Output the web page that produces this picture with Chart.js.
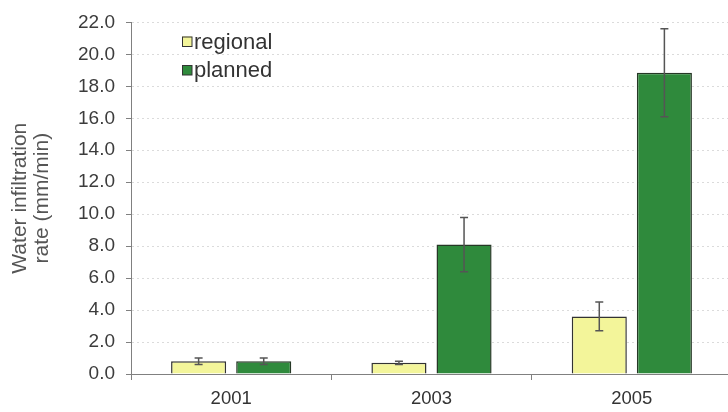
<!DOCTYPE html>
<html>
<head>
<meta charset="utf-8">
<script src="https://cdn.jsdelivr.net/npm/chart.js@4/dist/chart.umd.min.js"></script>
<style>
  html, body { margin: 0; padding: 0; background: #ffffff; overflow: hidden; }
  #wrap { width: 736px; height: 412px; }
</style>
</head>
<body>
<div id="wrap"><canvas id="c" width="736" height="412"></canvas></div>
<script>
// Infiltration rate by year, means with standard error
const years = ['2001', '2003', '2005'];
const regional = [0.8, 0.7, 3.6];
const regionalErr = [0.2, 0.1, 0.9];
const planned = [0.8, 8.1, 18.85];
const plannedErr = [0.2, 1.7, 2.75];
const yTicks = [0, 2, 4, 6, 8, 10, 12, 14, 16, 18, 20, 22];

const FONT = "'Liberation Sans', Arial, sans-serif";

// Whiskers drawn on top of each bar through the y scale
const errorBars = {
  id: 'errorBars',
  afterDatasetsDraw(chart) {
    const ctx = chart.ctx;
    const y = chart.scales.y;
    chart.data.datasets.forEach((ds, di) => {
      const meta = chart.getDatasetMeta(di);
      meta.data.forEach((bar, i) => {
        const v = ds.data[i], e = ds.errors[i];
        const x = bar.x;
        const yTop = y.getPixelForValue(v + e);
        const yBot = y.getPixelForValue(v - e);
        ctx.save();
        ctx.strokeStyle = '#555555';
        ctx.lineWidth = 1.5;
        ctx.beginPath();
        ctx.moveTo(x, yTop); ctx.lineTo(x, yBot);
        ctx.moveTo(x - 4, yTop); ctx.lineTo(x + 4, yTop);
        ctx.moveTo(x - 4, yBot); ctx.lineTo(x + 4, yBot);
        ctx.stroke();
        ctx.restore();
      });
    });
  }
};

// Legend placed inside the plot, top-left
const innerLegend = {
  id: 'innerLegend',
  afterDraw(chart) {
    const ctx = chart.ctx;
    const x0 = chart.chartArea.left + 51;
    const rows = [41.5, 70];
    ctx.save();
    chart.data.datasets.forEach((ds, i) => {
      const cy = rows[i];
      ctx.fillStyle = ds.backgroundColor;
      ctx.fillRect(x0, cy - 5, 10, 10);
      ctx.strokeStyle = '#333333';
      ctx.lineWidth = 1;
      ctx.strokeRect(x0 + 0.5, cy - 4.5, 9.5, 9.5);
      ctx.fillStyle = '#333333';
      ctx.font = '22px ' + FONT;
      ctx.textBaseline = 'middle';
      ctx.textAlign = 'left';
      ctx.fillText(ds.label, x0 + 12, cy + 1);
    });
    ctx.restore();
  }
};

new Chart(document.getElementById('c'), {
  type: 'bar',
  data: {
    labels: years,
    datasets: [
      {
        label: 'regional',
        data: regional,
        errors: regionalErr,
        backgroundColor: '#f3f59a',
        borderColor: '#333333',
        borderWidth: 1.5,
        categoryPercentage: 0.65,
        barPercentage: 0.846
      },
      {
        label: 'planned',
        data: planned,
        errors: plannedErr,
        backgroundColor: '#2f8a3c',
        borderColor: '#263826',
        borderWidth: 1.5,
        categoryPercentage: 0.65,
        barPercentage: 0.846
      }
    ]
  },
  options: {
    responsive: false,
    animation: false,
    layout: { padding: { top: 19, right: 4, left: 0, bottom: 0 } },
    plugins: { legend: { display: false }, tooltip: { enabled: false } },
    scales: {
      x: {
        offset: true,
        grid: {
          offset: true,
          drawOnChartArea: false,
          tickLength: 6,
          tickColor: '#808080'
        },
        border: { color: '#808080', width: 1 },
        ticks: {
          color: '#333333',
          padding: 8,
          font: { family: FONT, size: 18.5 }
        },
        afterFit(scale) { scale.height = 38; }
      },
      y: {
        min: 0,
        max: 22,
        afterBuildTicks(scale) {
          // labelled majors every 2, unlabelled minors in between
          const t = [];
          for (let v = 0; v <= 22; v += 1) t.push({ value: v });
          scale.ticks = t;
        },
        grid: {
          color: (c) => (yTicks.includes(c.tick.value) && c.tick.value !== 0 ? 'rgba(0,0,0,0.14)' : 'rgba(0,0,0,0)'),
          tickColor: '#808080',
          tickLength: 5,
          lineWidth: 1
        },
        border: { color: '#808080', width: 1, dash: [2, 3] },
        ticks: {
          color: '#3c3c3c',
          padding: 11,
          font: { family: FONT, size: 19 },
          callback: (v) => (yTicks.includes(v) ? v.toFixed(1) : '')
        },
        title: {
          display: true,
          text: ['Water infiltration', 'rate (mm/min)'],
          color: '#555555',
          font: { family: FONT, size: 21, lineHeight: 1.05 },
          padding: { top: 9, bottom: 0 }
        },
        afterFit(scale) { scale.width = 131; }
      }
    }
  },
  plugins: [errorBars, innerLegend]
});
</script>
</body>
</html>
